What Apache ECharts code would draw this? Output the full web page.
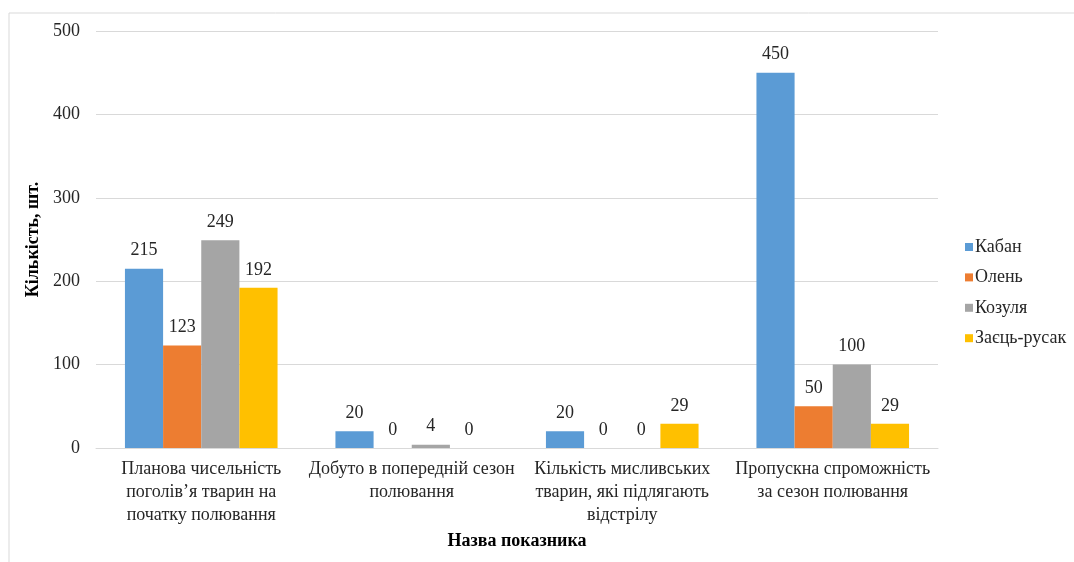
<!DOCTYPE html>
<html><head><meta charset="utf-8">
<script src="https://cdn.jsdelivr.net/npm/echarts@6/dist/echarts.min.js"></script>
<style>html,body{margin:0;padding:0;background:#fff}#c{width:1074px;height:562px}</style>
</head><body><div id="c"></div>
<script>
const categories = [
  'Планова чисельність\nпоголів’я тварин на\nпочатку полювання',
  'Добуто в попередній сезон\nполювання',
  'Кількість мисливських\nтварин, які підлягають\nвідстрілу',
  'Пропускна спроможність\nза сезон полювання'
];
const seriesNames = ['Кабан', 'Олень', 'Козуля', 'Заєць-русак'];
const kaban = [215, 20, 20, 450];
const olen = [123, 0, 0, 50];
const kozulia = [249, 4, 0, 100];
const zaiets = [192, 0, 29, 29];
const colors = ['#5b9bd5', '#ed7d31', '#a5a5a5', '#ffc000'];
const yTicks = [0, 100, 200, 300, 400, 500];

const font = 'Liberation Serif';
const txt = '#262626';
const dataSets = [kaban, olen, kozulia, zaiets];
const chart = echarts.init(document.getElementById('c'));
chart.setOption({
  animation: false,
  textStyle: {fontFamily: font},
  graphic: [{type: 'rect', shape: {x: 9, y: 13, width: 1100, height: 600},
    style: {fill: 'none', stroke: '#d9d9d9', lineWidth: 1}, silent: true}],
  grid: {left: 96, right: 136, top: 31, bottom: 114},
  legend: {
    orient: 'vertical', left: 960, top: 233, itemWidth: 8, itemHeight: 8, itemGap: 12.4,
    icon: 'rect', textStyle: {fontFamily: font, fontSize: 18, color: txt, padding: [0,0,0,-3]},
    data: seriesNames
  },
  xAxis: {
    type: 'category', data: categories,
    axisLine: {lineStyle: {color: '#d9d9d9'}}, axisTick: {show: false},
    axisLabel: {fontFamily: font, fontSize: 18, color: txt, lineHeight: 23, margin: 10, interval: 0},
    name: 'Назва показника', nameLocation: 'middle', nameGap: 83,
    nameTextStyle: {fontFamily: font, fontSize: 18, fontWeight: 'bold', color: '#000'}
  },
  yAxis: {
    type: 'value', min: 0, max: 500, interval: 100,
    axisLine: {show: false}, axisTick: {show: false},
    splitLine: {lineStyle: {color: '#d9d9d9'}},
    axisLabel: {fontFamily: font, fontSize: 18, color: txt, margin: 16,
      formatter: v => yTicks.includes(v) ? String(v) : ''},
    name: 'Кількість, шт.', nameLocation: 'middle', nameGap: 48, nameRotate: 90,
    nameTextStyle: {fontFamily: font, fontSize: 18, fontWeight: 'bold', color: '#000'}
  },
  series: seriesNames.map((n, i) => ({
    name: n, type: 'bar', data: dataSets[i], barGap: '0%', barCategoryGap: '27.5%',
    itemStyle: {color: colors[i]},
    label: {show: true, position: 'top', distance: 9, fontFamily: font, fontSize: 18, color: txt}
  }))
});
</script></body></html>
